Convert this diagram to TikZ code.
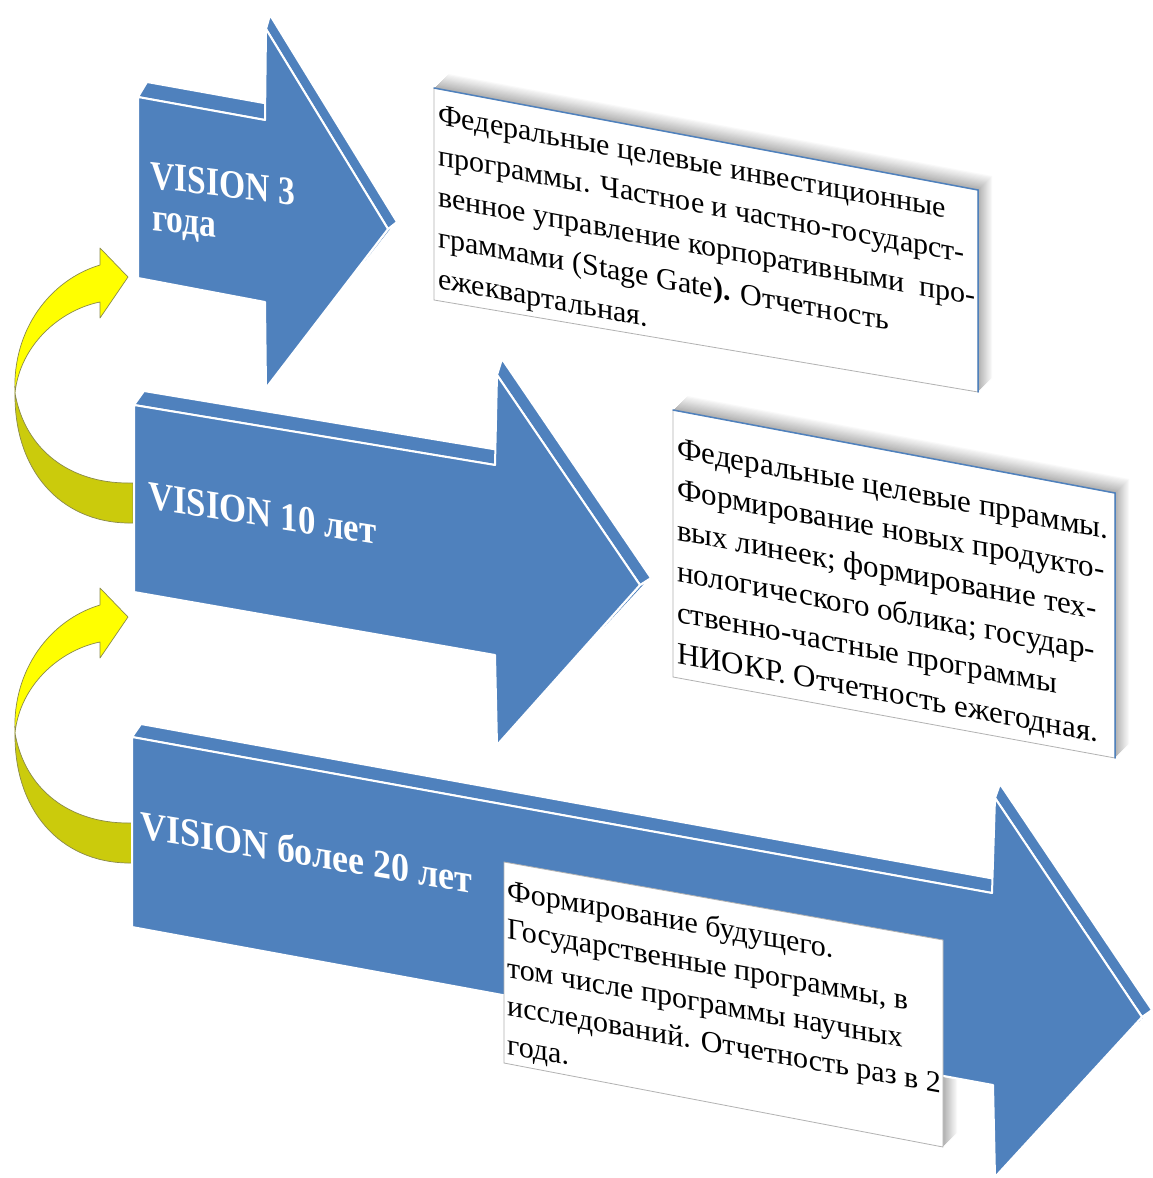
\documentclass[tikz,border=0pt]{standalone}
\usepackage{fontspec}
\setmainfont{Liberation Serif}
\usetikzlibrary{calc}
\definecolor{arrowblue}{HTML}{4F81BD}
\definecolor{ybright}{HTML}{FFFF00}
\definecolor{ydark}{HTML}{CBCB0C}
\definecolor{yline}{HTML}{8A8A4A}
\newcommand\DrawSlabArrow[1]{%
  \foreach \i/\j in {6/7,7/1,5/6,2/3,1/2,4/5,3/4}
    \filldraw[face] (#1f\i) -- (#1f\j) -- (#1b\j) -- (#1b\i) -- cycle;
  \filldraw[face] (#1f1) -- (#1f2) -- (#1f3) -- (#1f4) -- (#1f5) -- (#1f6) -- (#1f7) -- cycle;}
\newcommand\CardShadow[4]{%
  \foreach \d in {14,13,...,1}{%
    \pgfmathsetmacro\shp{int(66-4.3*\d)}%
    \fill[gray!\shp] ($(#1)+(\d,-\d)$) -- ($(#2)+(\d,-\d)$) -- ($(#3)+(\d,-\d)$) -- ($(#4)+(\d,-\d)$) -- cycle;}}
\tikzset{
  face/.style={fill=arrowblue, draw=white, line width=2pt, line join=round},
  lbl/.style={text=white, font=\fontsize{40}{46}\selectfont\bfseries, inner sep=0pt, anchor=base west},
  boxtxt/.style={text=black, font=\fontsize{30}{36}\selectfont, inner sep=0pt, anchor=base west},
  card/.style={fill=white, draw=gray!60, line width=0.8pt},
  cardedge/.style={draw=arrowblue, line width=1.5pt, line cap=round},
  curl/.pic={
    \filldraw[fill=ydark, draw=yline, line width=0.7pt, line join=round]
      (133,483) -- (128,483) .. controls (70,483) and (25,450) .. (15,393)
      .. controls (14,470) and (60,522) .. (128,523) -- (133,523) -- cycle;
    \filldraw[fill=ybright, draw=yline, line width=0.7pt, line join=round]
      (15,393) .. controls (12,330) and (50,280) .. (100,265) -- (100,248)
      -- (128,277) -- (100,318) -- (100,302)
      .. controls (60,310) and (20,345) .. (15,393) -- cycle;
  }
}
\begin{document}
\begin{tikzpicture}[x=1pt,y=-1pt]
\useasboundingbox (0,0) rectangle (1152,1178);
\fill[white] (0,0) rectangle (1152,1178);

% yellow curved arrows
\pic (ya1) at (0,0) {curl};
\pic (ya2) at (0,340) {curl};

% ---- card 1 ----
\coordinate (k1a) at (434,88);
\coordinate (k1b) at (978,190);
\coordinate (k1c) at (978,392);
\coordinate (k1d) at (434,300);
\CardShadow{k1a}{k1b}{k1c}{k1d}
\filldraw[card] (k1a) -- (k1b) -- (k1c) -- (k1d) -- cycle;
\draw[cardedge] (k1a) -- (k1b) -- (k1c);
\node[boxtxt, yslant=-0.185] (c1l1) at (438,124) {Федеральные целевые инвестиционные};
\node[boxtxt, yslant=-0.185] (c1l2) at (438,165) {программы. Частное и частно-государст-};
\node[boxtxt, yslant=-0.185] (c1l3) at (438,206) {венное управление корпоративными\ \ про-};
\node[boxtxt, yslant=-0.185] (c1l4) at (438,247) {граммами (Stage Gate\textbf{).} Отчетность};
\node[boxtxt, yslant=-0.185] (c1l5) at (438,288) {ежеквартальная.};

% ---- arrow 1 ----
\coordinate (a1f1) at (138,97);  \coordinate (a1b1) at (147,82);
\coordinate (a1f2) at (265,120); \coordinate (a1b2) at (275,105);
\coordinate (a1f3) at (266,29);  \coordinate (a1b3) at (270,15);
\coordinate (a1f4) at (388,229); \coordinate (a1b4) at (397,222);
\coordinate (a1f5) at (266,388); \coordinate (a1b5) at (274,379);
\coordinate (a1f6) at (265,302); \coordinate (a1b6) at (275,287);
\coordinate (a1f7) at (138,278); \coordinate (a1b7) at (147,263);
\DrawSlabArrow{a1}
\node[lbl, xscale=0.84, yslant=-0.10] (v1a) at (150,188) {VISION 3};
\node[lbl, xscale=0.84, yslant=-0.10] (v1b) at (152,230) {года};

% ---- arrow 2 ----
\coordinate (a2f1) at (134,405); \coordinate (a2b1) at (144,391);
\coordinate (a2f2) at (495,465); \coordinate (a2b2) at (505,451);
\coordinate (a2f3) at (497,375); \coordinate (a2b3) at (502,359);
\coordinate (a2f4) at (640,585); \coordinate (a2b4) at (651,578);
\coordinate (a2f5) at (497,745); \coordinate (a2b5) at (505,736);
\coordinate (a2f6) at (495,655); \coordinate (a2b6) at (505,641);
\coordinate (a2f7) at (134,592); \coordinate (a2b7) at (144,578);
\DrawSlabArrow{a2}
\node[lbl, xscale=0.87, yslant=-0.14] (v2) at (148,508) {VISION 10 лет};

% ---- card 2 ----
\coordinate (k2a) at (673,410);
\coordinate (k2b) at (1115,493);
\coordinate (k2c) at (1115,758);
\coordinate (k2d) at (673,677);
\CardShadow{k2a}{k2b}{k2c}{k2d}
\filldraw[card] (k2a) -- (k2b) -- (k2c) -- (k2d) -- cycle;
\draw[cardedge] (k2a) -- (k2b) -- (k2c);
\node[boxtxt, font=\fontsize{31}{36}\selectfont, yslant=-0.188] (c2l1) at (677,458) {Федеральные целевые прраммы.};
\node[boxtxt, font=\fontsize{31}{36}\selectfont, yslant=-0.188] (c2l2) at (677,499) {Формирование новых продукто-};
\node[boxtxt, font=\fontsize{31}{36}\selectfont, yslant=-0.188] (c2l3) at (677,540) {вых линеек; формирование тех-};
\node[boxtxt, font=\fontsize{31}{36}\selectfont, yslant=-0.188] (c2l4) at (677,581) {нологического облика; государ-};
\node[boxtxt, font=\fontsize{31}{36}\selectfont, yslant=-0.188] (c2l5) at (677,622) {ственно-частные программы};
\node[boxtxt, font=\fontsize{31}{36}\selectfont, yslant=-0.188] (c2l6) at (677,663) {НИОКР. Отчетность ежегодная.};

% ---- card 3 shadow (behind arrow 3) ----
\coordinate (k3a) at (504,862);
\coordinate (k3b) at (943,940);
\coordinate (k3c) at (943,1147);
\coordinate (k3d) at (504,1063);
\CardShadow{k3a}{k3b}{k3c}{k3d}

% ---- arrow 3 ----
\coordinate (a3f1) at (132,737);  \coordinate (a3b1) at (141,724);
\coordinate (a3f2) at (992,893);  \coordinate (a3b2) at (1001,880);
\coordinate (a3f3) at (995,798);  \coordinate (a3b3) at (1000,784);
\coordinate (a3f4) at (1142,1017);\coordinate (a3b4) at (1152,1010);
\coordinate (a3f5) at (995,1177); \coordinate (a3b5) at (1003,1168);
\coordinate (a3f6) at (993,1085); \coordinate (a3b6) at (1002,1072);
\coordinate (a3f7) at (132,927);  \coordinate (a3b7) at (141,914);
\DrawSlabArrow{a3}
\node[lbl, xscale=0.9, yslant=-0.15] (v3) at (140,838) {VISION более 20 лет};

% ---- card 3 ----
\filldraw[card] (k3a) -- (k3b) -- (k3c) -- (k3d) -- cycle;
\node[boxtxt, yslant=-0.178] (c3l1) at (507,900) {Формирование будущего.};
\node[boxtxt, yslant=-0.178] (c3l2) at (507,938.5) {Государственные программы, в};
\node[boxtxt, yslant=-0.178] (c3l3) at (507,977) {том числе программы научных};
\node[boxtxt, yslant=-0.178] (c3l4) at (507,1015.5) {исследований. Отчетность раз в 2};
\node[boxtxt, yslant=-0.178] (c3l5) at (507,1054) {года.};
\end{tikzpicture}
\end{document}
